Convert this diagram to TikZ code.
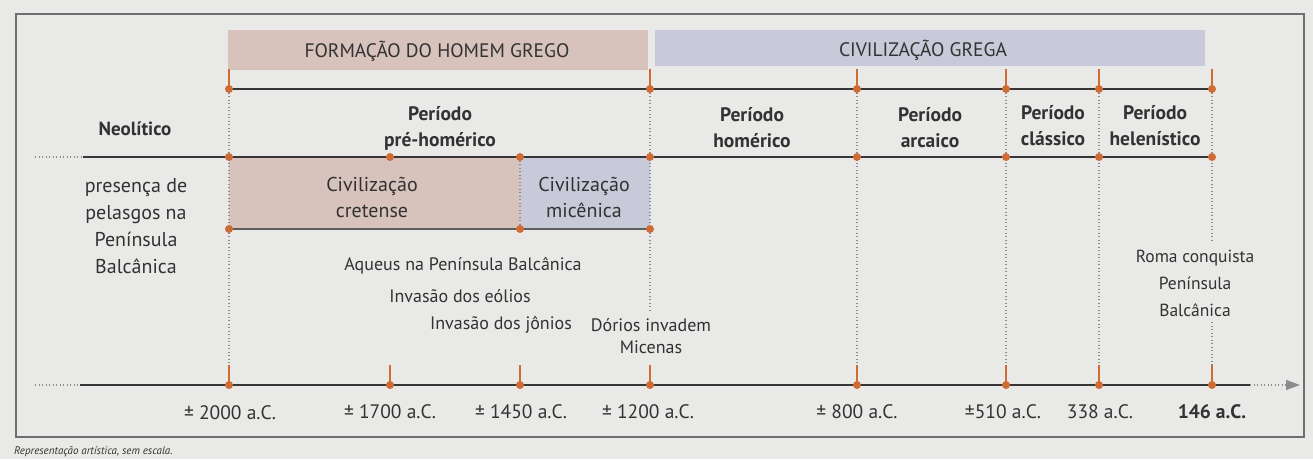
\documentclass[tikz,border=0pt]{standalone}
\usepackage{fontspec}
\setmainfont{PT Sans}
\usetikzlibrary{arrows.meta}
\definecolor{bg}{HTML}{E9E9E7}
\definecolor{framec}{HTML}{6E6E6E}
\definecolor{textc}{HTML}{323232}
\definecolor{orangec}{HTML}{CF6B34}
\definecolor{pinkc}{HTML}{D7C2BC}
\definecolor{bluec}{HTML}{C8C9D9}
\definecolor{dotc}{HTML}{8C8C8C}
\definecolor{linec}{HTML}{363636}
\tikzset{
  lbl/.style={font=\fontsize{20}{26}\selectfont, text=textc, align=center, inner sep=0pt},
  per/.style={font=\fontsize{19.5}{26}\bfseries, text=textc, align=center, inner sep=0pt},
  lblsm/.style={font=\fontsize{18}{22}\selectfont, text=textc, align=center, inner sep=0pt},
  head/.style={font=\fontsize{19.5}{22}\selectfont, text=textc, inner sep=0pt},
  date/.style={font=\fontsize{19.5}{22}\selectfont, text=textc, inner sep=0pt},
  mainline/.style={draw=linec, line width=2.2pt},
  thinline/.style={draw=linec!80, line width=1.2pt},
  dotline/.style={draw=dotc, line width=1.3pt, dash pattern=on 1.3pt off 2.2pt},
  tickline/.style={draw=orangec, line width=2.2pt},
  dotmark/.style={circle, fill=orangec, inner sep=0pt, minimum size=8pt},
}
\begin{document}
\begin{tikzpicture}[x=1pt,y=-1pt]
\useasboundingbox (0,0) rectangle (1313,459);
\fill[bg] (0,0) rectangle (1313,459);
\draw[framec, line width=1.2pt] (16,14) rectangle (1304,437);

% header bands
\fill[pinkc] (228,30) rectangle (648,70);
\fill[bluec] (655,30) rectangle (1205,66);
\node[head] (hform) at (437,51) {FORMAÇÃO DO HOMEM GREGO};
\node[head] (hciv) at (923,50) {CIVILIZAÇÃO GREGA};

% civilization boxes
\fill[pinkc] (229,157) rectangle (520,229);
\fill[bluec] (520,157) rectangle (650,229);

% x positions
\foreach \n/\x in {A/229,B/390,C/520,D/650,E/857,F/1006,G/1099,H/1212}{
  \coordinate (top\n) at (\x,89);
  \coordinate (tt\n) at (\x,69);
  \coordinate (mid\n) at (\x,157);
  \coordinate (box\n) at (\x,229);
  \coordinate (bot\n) at (\x,385);
  \coordinate (bt\n) at (\x,365);
}

% text nodes
\node[per, font=\fontsize{19}{26}\bfseries] (neo) at (135,129) {Neolítico};
\node[per] (pre) at (440,128) {Período\\pré-homérico};
\node[per] (hom) at (752,128) {Período\\homérico};
\node[per] (arc) at (930,128) {Período\\arcaico};
\node[per] (cla) at (1053,126) {Período\\clássico};
\node[per] (hel) at (1155,126) {Período\\helenístico};
\node[lbl, font=\fontsize{20}{27}\selectfont] (pel) at (136,226) {presença de\\pelasgos na\\Península\\Balcânica};
\node[lbl] (cre) at (372,197) {Civilização\\cretense};
\node[lbl] (mic) at (584,197) {Civilização\\micênica};
\node[lblsm] (aqu) at (463,266) {Aqueus na Península Balcânica};
\node[lblsm] (eol) at (460,296) {Invasão dos eólios};
\node[lblsm] (jon) at (501,325) {Invasão dos jônios};
\node[lblsm] (dor) at (651,336) {Dórios invadem\\Micenas};
\node[lbl, font=\fontsize{17.5}{27}\selectfont] (rom) at (1195,283) {Roma conquista\\Península\\Balcânica};

% dates
\node[date] (dA) at (230,413) {± 2000 a.C.};
\node[date] (dB) at (390,412) {± 1700 a.C.};
\node[date] (dC) at (521,412) {± 1450 a.C.};
\node[date] (dD) at (648,412) {± 1200 a.C.};
\node[date] (dE) at (857,412) {± 800 a.C.};
\node[date] (dF) at (1003,412) {±510 a.C.};
\node[date] (dG) at (1100,412) {338 a.C.};
\node[date, font=\fontsize{19.5}{22}\bfseries] (dH) at (1212,412) {146 a.C.};

% dotted verticals
\draw[dotline] (topA) -- (btA);
\draw[dotline] (topD) -- (650,312);
\draw[dotline] (topE) -- (btE);
\draw[dotline] (topF) -- (btF);
\draw[dotline] (topG) -- (btG);
\draw[dotline] (topH) -- (1212,240);
\draw[dotline] (1212,322) -- (btH);
\draw[dotline] (midC) -- (boxC);

% top line
\draw[mainline] (topA) -- (topH);
% middle line
\coordinate (mL) at (35,157);
\coordinate (mS) at (83,157);
\draw[dotline] (mL) -- (mS);
\draw[mainline] (mS) -- (midH);
% box bottom line
\draw[thinline] (boxA) -- (boxD);
% bottom line
\coordinate (bL) at (35,385);
\coordinate (bS) at (80,385);
\coordinate (bE) at (1250,385);
\coordinate (bR) at (1300,385);
\draw[dotline] (bL) -- (bS);
\draw[mainline] (bS) -- (bE);
\draw[dotline, -{Triangle[length=14pt,width=10pt]}] (bE) -- (bR);

% ticks
\foreach \n in {A,D,E,F,G,H}{
  \draw[tickline] (tt\n) -- (top\n);
  \node[dotmark] (dt\n) at (top\n) {};
}
\foreach \n in {A,B,C,D,E,F,G,H}{
  \draw[tickline] (bt\n) -- (bot\n);
  \node[dotmark] (db\n) at (bot\n) {};
  \node[dotmark] (dm\n) at (mid\n) {};
}
\foreach \n in {A,C,D}{
  \node[dotmark] (dx\n) at (box\n) {};
}

% caption
\node[font=\fontsize{11}{13}\itshape\selectfont, text=textc, anchor=west, inner sep=0pt] (cap) at (14,452) {Representação artística, sem escala.};
\end{tikzpicture}
\end{document}
